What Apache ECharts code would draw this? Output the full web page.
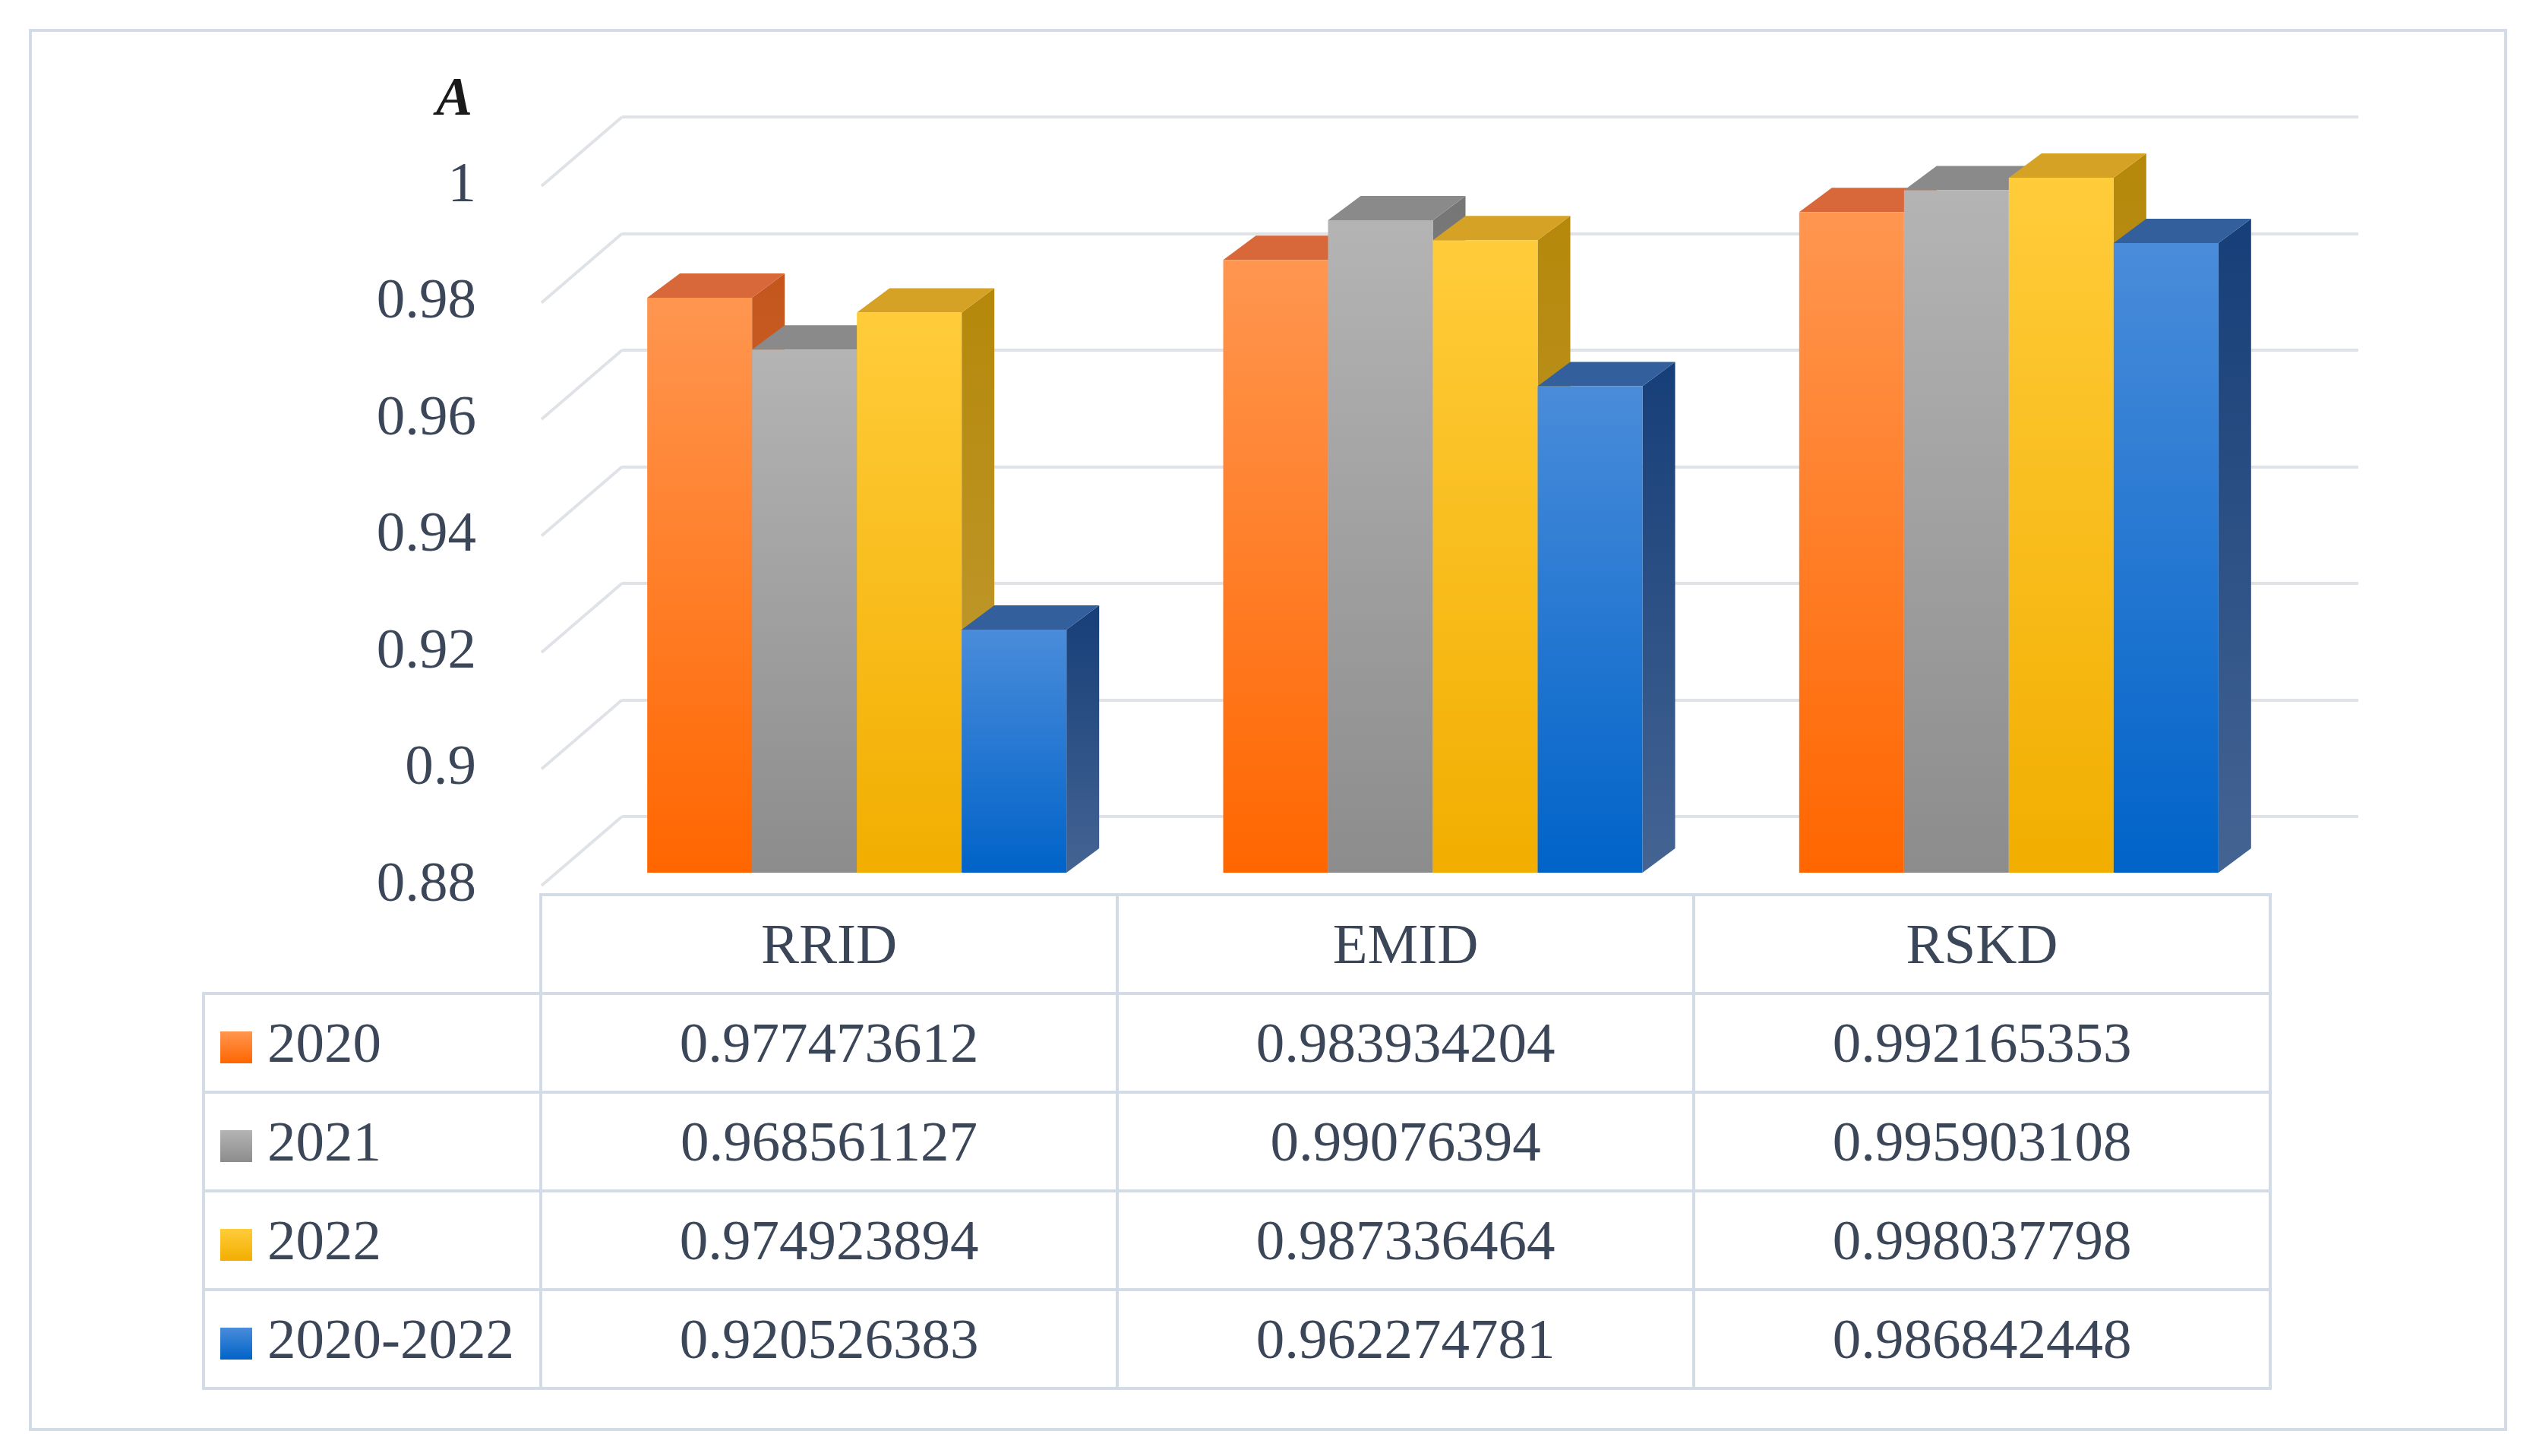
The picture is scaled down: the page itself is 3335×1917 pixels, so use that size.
<!DOCTYPE html>
<html lang="en">
<head>
<meta charset="UTF-8">
<title>A</title>
<style>
    body { margin: 0; background: #fff; }
    #frame { position: absolute; left: 38px; top: 38px; width: 3255px; height: 1838px; border: 4px solid #d3dbe6; }
    #chart { position: absolute; left: 0; top: 0; width: 3335px; height: 1917px; }
    #tbl { position: absolute; left: 266px; top: 1176px; border-collapse: collapse;
           font-family: "Liberation Serif", serif; font-size: 75px; color: #3b4658; }
    #tbl td { border: 4px solid #d3dbe6; height: 126px; padding: 0; text-align: center; }
    #tbl td.name { text-align: left; padding-left: 20px; width: 420px; }
    #tbl td.val { width: 755px; }
    #tbl td.blank { border: none; }
    .sw { display: inline-block; width: 42px; height: 42px; margin-right: 20px; vertical-align: -2px; }
</style>
</head>
<body>
<div id="frame"></div>
<div id="chart"></div>
<table id="tbl"></table>
<script src="https://cdn.jsdelivr.net/npm/echarts@6/dist/echarts.min.js"></script>
<script>
    var categories = ['RRID', 'EMID', 'RSKD'];
    var seriesNames = ['2020', '2021', '2022', '2020-2022'];
    var v2020 = [0.977473612, 0.983934204, 0.992165353];
    var v2021 = [0.968561127, 0.99076394, 0.995903108];
    var v2022 = [0.974923894, 0.987336464, 0.998037798];
    var vAll = [0.920526383, 0.962274781, 0.986842448];
    var yTicks = [0.88, 0.9, 0.92, 0.94, 0.96, 0.98, 1];
    var allValues = [v2020, v2021, v2022, vAll];

    // front, front bottom, top face, side face
    var palette = [
        ['#ff9650', '#ff6600', '#d8683a', '#c4561c'],
        ['#b4b4b4', '#8c8c8c', '#8a8a8a', '#767676'],
        ['#ffcc3a', '#f2ae00', '#d6a226', '#b5880a'],
        ['#4a8cda', '#0063c8', '#33609c', '#163e78']
    ];

    var BW = 138, DX = 43, DY = -32;
    var font = '"Liberation Serif", serif';

    // table
    var tbl = document.getElementById('tbl');
    var html = '<tr><td class="blank"></td>';
    categories.forEach(function (c) { html += '<td class="val">' + c + '</td>'; });
    html += '</tr>';
    seriesNames.forEach(function (n, i) {
        html += '<tr><td class="name"><span class="sw" style="background:linear-gradient(' + palette[i][0] + ',' + palette[i][1] + ')"></span>' + n + '</td>';
        allValues[i].forEach(function (v) { html += '<td class="val">' + v + '</td>'; });
        html += '</tr>';
    });
    tbl.innerHTML = html;

    var chart = echarts.init(document.getElementById('chart'));

    function barSeries(idx) {
        return {
            name: seriesNames[idx],
            type: 'custom',
            xAxisIndex: 0, yAxisIndex: 0,
            data: allValues[idx].map(function (v, i) { return [i, v]; }),
            renderItem: function (params, api) {
                var top = api.coord([api.value(0), api.value(1)]);
                var base = api.coord([api.value(0), 0.88]);
                var x = top[0] - 240 + idx * BW;
                var b = base[1] - 17;
                var y = top[1] - 26 * (base[1] - top[1]) / 900;
                y = top[1] - 26;
                var c = palette[idx];
                return {
                    type: 'group',
                    children: [
                        { type: 'polygon', shape: { points: [[x + BW, y], [x + BW + DX, y + DY], [x + BW + DX, b + DY], [x + BW, b]] },
                          style: { fill: new echarts.graphic.LinearGradient(0, 0, 0, 1, [{ offset: 0, color: c[3] }, { offset: 1, color: echarts.color.lift(c[3], 0.2) }]) } },
                        { type: 'polygon', shape: { points: [[x, y], [x + DX, y + DY], [x + BW + DX, y + DY], [x + BW, y]] },
                          style: { fill: c[2] } },
                        { type: 'rect', shape: { x: x, y: y, width: BW, height: b - y },
                          style: { fill: new echarts.graphic.LinearGradient(0, 0, 0, 1, [{ offset: 0, color: c[0] }, { offset: 1, color: c[1] }]) } }
                    ]
                };
            }
        };
    }

    var series = [
        // back wall gridlines
        { type: 'line', xAxisIndex: 1, yAxisIndex: 1, data: [], silent: true },
        // slanted left-wall lines
        {
            type: 'custom', xAxisIndex: 0, yAxisIndex: 0, silent: true,
            data: yTicks.map(function (t) { return [0, t]; }),
            renderItem: function (params, api) {
                var p = api.coord([0, api.value(1)]);
                var x0 = params.coordSys.x;
                return { type: 'line', shape: { x1: x0, y1: p[1], x2: x0 + 106, y2: p[1] - 91 },
                         style: { stroke: '#dfe3e8', lineWidth: 4 } };
            }
        }
    ];
    for (var i = 0; i < 4; i++) series.push(barSeries(i));

    chart.setOption({
        animation: false,
        grid: [
            { left: 713, top: 245, width: 2275, height: 921 },
            { left: 819, top: 154, width: 2286, height: 921 }
        ],
        xAxis: [
            { type: 'category', gridIndex: 0, data: categories, show: false },
            { type: 'category', gridIndex: 1, data: categories, show: false }
        ],
        yAxis: [
            { type: 'value', gridIndex: 0, min: 0.88, max: 1, interval: 0.02,
              axisLine: { show: false }, axisTick: { show: false }, splitLine: { show: false },
              axisLabel: { fontFamily: font, fontSize: 75, color: '#3b4658', margin: 86,
                           formatter: function (v) { return String(+v.toFixed(2)); } } },
            { type: 'value', gridIndex: 1, min: 0.88, max: 1, interval: 0.02,
              axisLine: { show: false }, axisTick: { show: false }, axisLabel: { show: false },
              splitLine: { lineStyle: { color: '#dfe3e8', width: 4 } } }
        ],
        graphic: [
            { type: 'text', left: 574, top: 96,
              style: { text: 'A', fontFamily: font, fontStyle: 'italic', fontWeight: 'bold', fontSize: 72, fill: '#1a1a1a' } }
        ],
        series: series
    });
</script>
</body>
</html>
